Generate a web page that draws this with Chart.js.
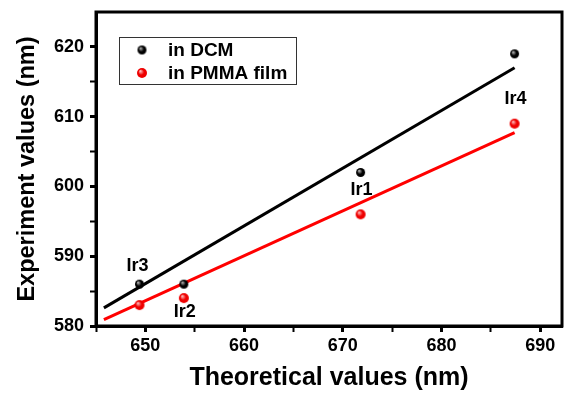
<!DOCTYPE html>
<html>
<head>
<meta charset="utf-8">
<script src="https://cdn.jsdelivr.net/npm/chart.js@4.4.1/dist/chart.umd.min.js"></script>
<style>
  html, body { margin: 0; padding: 0; background: #fff; }
  #wrap { width: 567px; height: 396px; }
</style>
</head>
<body>
<div id="wrap"><canvas id="graph" width="567" height="396"></canvas></div>
<script>
// theoretical vs experimental emission maxima (nm)
var complexes = ['Ir3', 'Ir2', 'Ir1', 'Ir4'];
var theory = [649.4, 653.9, 671.8, 687.4];
var inDCM = [586, 586, 602, 619];
var inPMMA = [583, 584, 596, 609];

// linear fit end points
var fitX = [645.8, 687.4];
var fitDCM = [582.6, 617];
var fitPMMA = [580.9, 607.7];

var xTicks = [645, 650, 655, 660, 665, 670, 675, 680, 685, 690];
var yTicks = [580, 585, 590, 595, 600, 605, 610, 615, 620];

var police = 'Liberation Sans, Arial, sans-serif';

function toPoints(xs, ys) {
	return xs.map(function (x, i) { return { x: x, y: ys[i] }; });
}

// little shaded balls for the markers
function boule(r, fond, reflet) {
	var c = document.createElement('canvas');
	c.width = c.height = 2 * r + 2;
	var g = c.getContext('2d');
	var m = r + 1;
	var grad = g.createRadialGradient(m - r * 0.35, m - r * 0.4, 0.3, m, m, r);
	grad.addColorStop(0, reflet);
	grad.addColorStop(0.55, fond);
	grad.addColorStop(1, fond);
	g.fillStyle = grad;
	g.beginPath();
	g.arc(m, m, r, 0, Math.PI * 2);
	g.fill();
	return c;
}
var bouleNoire = boule(4.5, '#000000', '#b8b8b8');
var bouleRouge = boule(5, '#ee0000', '#ffc0c0');

var cadre = {
	id: 'cadre',
	afterDraw: function (chart) {
		var c = chart.ctx, a = chart.chartArea;
		c.save();
		c.strokeStyle = '#000';
		c.lineWidth = 3;
		c.strokeRect(a.left, a.top, a.right - a.left, a.bottom - a.top);

		// legend box
		c.lineWidth = 1;
		c.strokeStyle = '#333';
		c.strokeRect(119.5, 37.5, 177, 47);
		c.drawImage(bouleNoire, 142 - 5.5, 50 - 5.5);
		c.drawImage(bouleRouge, 142 - 6, 73 - 6);
		c.fillStyle = '#000';
		c.font = 'bold 19px ' + police;
		c.textBaseline = 'middle';
		c.textAlign = 'left';
		c.fillText('in DCM', 168, 51);
		c.fillText('in PMMA film', 168, 74);

		// complex names next to the points
		var sx = chart.scales.x, sy = chart.scales.y;
		var decale = [[-2, -18], [1, 28], [1, 18], [1, 45]];
		c.font = 'bold 18px ' + police;
		c.textAlign = 'center';
		for (var i = 0; i < complexes.length; i++) {
			var px = sx.getPixelForValue(theory[i]) + decale[i][0];
			var py = sy.getPixelForValue(inDCM[i]) + decale[i][1];
			c.fillText(complexes[i], px, py);
		}
		c.restore();
	}
};

var tickFont = { family: police, size: 18, weight: 'bold' };

function tickW(ctx) {
	return ctx.tick && ctx.tick.value % 10 === 0 ? 3 : 2;
}

function sansMarge(s) {
	s.paddingTop = 0;
	s.paddingBottom = 0;
	s.paddingLeft = 0;
	s.paddingRight = 0;
}

var config = {
	type: 'scatter',
	data: {
		datasets: [
			{
				label: 'in DCM',
				data: toPoints(theory, inDCM),
				pointStyle: bouleNoire,
				order: 1
			},
			{
				label: 'in PMMA film',
				data: toPoints(theory, inPMMA),
				pointStyle: bouleRouge,
				order: 1
			},
			{
				label: 'fit DCM',
				data: toPoints(fitX, fitDCM),
				showLine: true,
				borderColor: '#000',
				borderWidth: 3,
				pointRadius: 0,
				order: 2
			},
			{
				label: 'fit PMMA',
				data: toPoints(fitX, fitPMMA),
				showLine: true,
				borderColor: '#ff0000',
				borderWidth: 3,
				pointRadius: 0,
				order: 2
			}
		]
	},
	options: {
		responsive: false,
		animation: false,
		layout: { padding: { top: 12, right: 4, left: 0, bottom: 0 } },
		plugins: {
			legend: { display: false },
			tooltip: { enabled: false }
		},
		scales: {
			x: {
				type: 'linear',
				min: 645,
				max: 692.2,
				afterBuildTicks: function (s) {
					s.ticks = xTicks.map(function (v) { return { value: v }; });
				},
				afterFit: function (s) { s.height = 70; sansMarge(s); },
				ticks: {
					color: '#000',
					font: tickFont,
					padding: 3,
					maxRotation: 0,
					autoSkip: false,
					callback: function (v) { return v % 10 === 0 ? v : ''; }
				},
				grid: {
					drawOnChartArea: false,
					tickLength: 6,
					tickWidth: tickW,
					tickColor: '#000'
				},
				border: { display: true, width: 3, color: '#000' },
				title: {
					display: true,
					text: 'Theoretical values (nm)',
					color: '#000',
					font: { family: police, size: 25, weight: 'bold' },
					padding: { top: 0, bottom: 3 }
				}
			},
			y: {
				type: 'linear',
				min: 580,
				max: 625,
				afterBuildTicks: function (s) {
					s.ticks = yTicks.map(function (v) { return { value: v }; });
				},
				afterFit: function (s) { s.width = 96; sansMarge(s); },
				ticks: {
					color: '#000',
					font: tickFont,
					padding: 6,
					autoSkip: false,
					callback: function (v) { return v % 10 === 0 ? v : ''; }
				},
				grid: {
					drawOnChartArea: false,
					tickLength: 6,
					tickWidth: tickW,
					tickColor: '#000'
				},
				border: { display: true, width: 3, color: '#000' },
				title: {
					display: true,
					text: 'Experiment values (nm)',
					color: '#000',
					font: { family: police, size: 23.5, weight: 'bold' },
					padding: { top: 13, bottom: 0 }
				}
			}
		}
	},
	plugins: [cadre]
};

var graph = new Chart(document.getElementById('graph').getContext('2d'), config);
</script>
</body>
</html>
